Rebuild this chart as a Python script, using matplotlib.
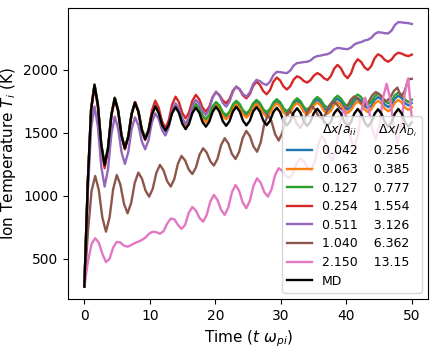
import numpy as np
import matplotlib
matplotlib.use("Agg")
import matplotlib.pyplot as plt
from matplotlib.lines import Line2D

# time grids (simulation output sampling)
t_main = np.linspace(0, 50, 98)
t_coarse = np.linspace(0, 50, 92)

dx_aii = ["0.042", "0.063", "0.127", "0.254", "0.511", "1.040", "2.150"]
dx_lam = ["0.256", "0.385", "0.777", "1.554", "3.126", "6.362", "13.15"]

T_blue = [280, 1100, 1690, 1885, 1726, 1407, 1248, 1381, 1647, 1780,
          1680, 1481, 1382, 1473, 1654, 1745, 1673, 1530, 1458, 1522,
          1651, 1715, 1669, 1578, 1532, 1578, 1669, 1715, 1676, 1599,
          1560, 1600, 1682, 1722, 1690, 1627, 1595, 1630, 1700, 1735,
          1706, 1649, 1620, 1650, 1712, 1742, 1715, 1662, 1635, 1663,
          1720, 1748, 1722, 1671, 1645, 1672, 1725, 1752, 1728, 1679,
          1655, 1681, 1732, 1758, 1735, 1688, 1665, 1690, 1740, 1765,
          1743, 1697, 1675, 1699, 1748, 1772, 1750, 1707, 1685, 1708,
          1755, 1778, 1757, 1716, 1695, 1717, 1763, 1785, 1765, 1725,
          1705, 1727, 1773, 1795, 1776, 1737, 1718, 1738]

T_orange = [280, 1100, 1690, 1883, 1724, 1406, 1247, 1380, 1645, 1778,
            1678, 1480, 1380, 1471, 1652, 1743, 1671, 1527, 1455, 1519,
            1648, 1712, 1666, 1574, 1528, 1574, 1664, 1710, 1670, 1592,
            1552, 1592, 1672, 1712, 1680, 1617, 1585, 1619, 1688, 1722,
            1693, 1636, 1608, 1638, 1698, 1728, 1701, 1648, 1622, 1649,
            1704, 1732, 1706, 1655, 1630, 1656, 1709, 1735, 1711, 1662,
            1638, 1663, 1713, 1738, 1715, 1668, 1645, 1669, 1718, 1742,
            1719, 1675, 1652, 1675, 1722, 1745, 1723, 1680, 1658, 1681,
            1727, 1750, 1729, 1686, 1665, 1687, 1733, 1755, 1734, 1693,
            1672, 1694, 1740, 1762, 1742, 1702, 1682, 1702]

T_green = [280, 1100, 1690, 1885, 1726, 1409, 1250, 1382, 1647, 1780,
           1681, 1484, 1385, 1475, 1655, 1745, 1674, 1533, 1462, 1527,
           1655, 1720, 1675, 1585, 1540, 1586, 1676, 1722, 1685, 1612,
           1575, 1614, 1691, 1730, 1700, 1640, 1610, 1644, 1711, 1745,
           1719, 1666, 1640, 1669, 1726, 1755, 1730, 1680, 1655, 1682,
           1735, 1762, 1738, 1689, 1665, 1691, 1742, 1768, 1744, 1696,
           1672, 1698, 1749, 1775, 1753, 1707, 1685, 1710, 1760, 1785,
           1764, 1721, 1700, 1724, 1771, 1795, 1774, 1733, 1712, 1735,
           1782, 1805, 1785, 1745, 1725, 1747, 1790, 1812, 1793, 1754,
           1735, 1756, 1799, 1820, 1801, 1764, 1745, 1764]

T_red = [280, 1096, 1680, 1870, 1708, 1383, 1220, 1358, 1633, 1770,
         1670, 1470, 1370, 1464, 1651, 1745, 1670, 1519, 1444, 1522,
         1678, 1756, 1701, 1592, 1537, 1600, 1725, 1788, 1745, 1659,
         1616, 1663, 1756, 1802, 1769, 1702, 1669, 1708, 1785, 1823,
         1801, 1758, 1736, 1769, 1835, 1868, 1845, 1798, 1775, 1808,
         1874, 1907, 1882, 1832, 1807, 1840, 1907, 1940, 1916, 1869,
         1845, 1871, 1924, 1950, 1938, 1912, 1900, 1919, 1956, 1975,
         1961, 1934, 1920, 1950, 2010, 2040, 2014, 1961, 1935, 1973,
         2048, 2085, 2064, 2021, 2000, 2031, 2094, 2125, 2110, 2080,
         2065, 2083, 2119, 2137, 2130, 2117, 2110, 2122]

T_purple = [280, 1013, 1540, 1710, 1551, 1233, 1074, 1213, 1490, 1629,
            1535, 1348, 1254, 1347, 1532, 1624, 1561, 1434, 1370, 1442,
            1585, 1656, 1612, 1524, 1480, 1544, 1672, 1736, 1695, 1612,
            1570, 1618, 1714, 1762, 1732, 1673, 1643, 1689, 1782, 1828,
            1798, 1739, 1709, 1749, 1828, 1868, 1848, 1808, 1788, 1821,
            1888, 1921, 1911, 1891, 1881, 1907, 1959, 1985, 1983, 1978,
            1975, 1995, 2035, 2055, 2058, 2063, 2065, 2076, 2099, 2110,
            2114, 2121, 2125, 2138, 2163, 2175, 2172, 2167, 2165, 2178,
            2203, 2215, 2221, 2234, 2240, 2255, 2285, 2300, 2297, 2292,
            2290, 2312, 2357, 2380, 2378, 2374, 2372, 2365]

T_brown = [280, 720, 1040, 1158, 1048, 827, 716, 829, 1054, 1166,
           1090, 938, 862, 943, 1104, 1185, 1137, 1042, 994, 1057,
           1183, 1246, 1203, 1117, 1074, 1135, 1256, 1317, 1281, 1210,
           1174, 1225, 1327, 1378, 1344, 1275, 1241, 1295, 1404, 1458,
           1417, 1334, 1293, 1349, 1460, 1516, 1475, 1392, 1351, 1424,
           1570, 1643, 1592, 1491, 1440, 1500, 1620, 1680, 1645, 1575,
           1540, 1584, 1671, 1715, 1689, 1636, 1610, 1645, 1715, 1750,
           1732, 1698, 1680, 1708, 1762, 1790, 1772, 1738, 1720, 1746,
           1799, 1825, 1807, 1770, 1752, 1779, 1833, 1860, 1790, 1830,
           1925, 1930]

T_pink = [280, 480, 620, 664, 630, 540, 475, 500, 590, 635,
          630, 605, 597, 610, 625, 637, 650, 670, 700, 716,
          712, 700, 720, 780, 820, 815, 770, 738, 770, 865,
          912, 883, 825, 796, 849, 955, 1008, 968, 889, 849,
          908, 1028, 1087, 1041, 948, 902, 962, 1080, 1140, 1104,
          1030, 994, 1050, 1164, 1220, 1200, 1160, 1140, 1180, 1259,
          1299, 1274, 1225, 1200, 1270, 1410, 1480, 1430, 1330, 1280,
          1382, 1587, 1690, 1612, 1458, 1380, 1480, 1680, 1780, 1697,
          1532, 1450, 1560, 1780, 1890, 1772, 1538, 1420, 1548, 1805,
          1934, 1620]

T_md = [280, 1100, 1690, 1880, 1721, 1405, 1246, 1378, 1643, 1775,
        1676, 1477, 1378, 1469, 1650, 1741, 1668, 1523, 1450, 1515,
        1644, 1709, 1661, 1566, 1518, 1564, 1658, 1704, 1661, 1573,
        1530, 1572, 1658, 1700, 1663, 1587, 1550, 1590, 1668, 1708,
        1670, 1594, 1556, 1594, 1670, 1708, 1671, 1597, 1560, 1596,
        1670, 1706, 1670, 1598, 1562, 1596, 1666, 1700, 1665, 1595,
        1560, 1594, 1662, 1696, 1661, 1591, 1556, 1590, 1658, 1692,
        1658, 1589, 1555, 1589, 1656, 1690, 1655, 1587, 1552, 1587,
        1655, 1690, 1655, 1585, 1550, 1585, 1653, 1688, 1654, 1584,
        1550, 1585, 1655, 1690, 1655, 1585, 1550, 1585]

series = [
    (t_main, T_blue, "C0"),
    (t_main, T_orange, "C1"),
    (t_main, T_green, "C2"),
    (t_main, T_red, "C3"),
    (t_main, T_purple, "C4"),
    (t_coarse, T_brown, "C5"),
    (t_coarse, T_pink, "C6"),
]

fig = plt.figure(figsize=(4.36, 3.48), dpi=100)
ax = fig.add_axes([0.156, 0.141, 0.826, 0.836])

handles = [Line2D([], [], linestyle="none")]
labels = [r"$\Delta x/a_{ii}$      $\Delta x/\lambda_{D_i}$"]
for (t, T, c), a, b in zip(series, dx_aii, dx_lam):
    ln, = ax.plot(t, T, color=c, lw=1.7)
    handles.append(ln)
    labels.append(f"{a}    {b}")
ln, = ax.plot(t_main, T_md, color="black", lw=1.7)
handles.append(ln)
labels.append("MD")

ax.set_xlim(-2.5, 52.5)
ax.set_ylim(182, 2492)
ax.set_xticks([0, 10, 20, 30, 40, 50])
ax.set_yticks([500, 1000, 1500, 2000])
ax.tick_params(labelsize=10)
ax.set_xlabel(r"Time ($t\ \omega_{pi}$)", fontsize=11)
ax.set_ylabel(r"Ion Temperature $T_i$ (K)", fontsize=11)

ax.legend(handles, labels, loc="lower right", fontsize=9,
          labelspacing=0.45)

fig.savefig("out.png", dpi=100)
